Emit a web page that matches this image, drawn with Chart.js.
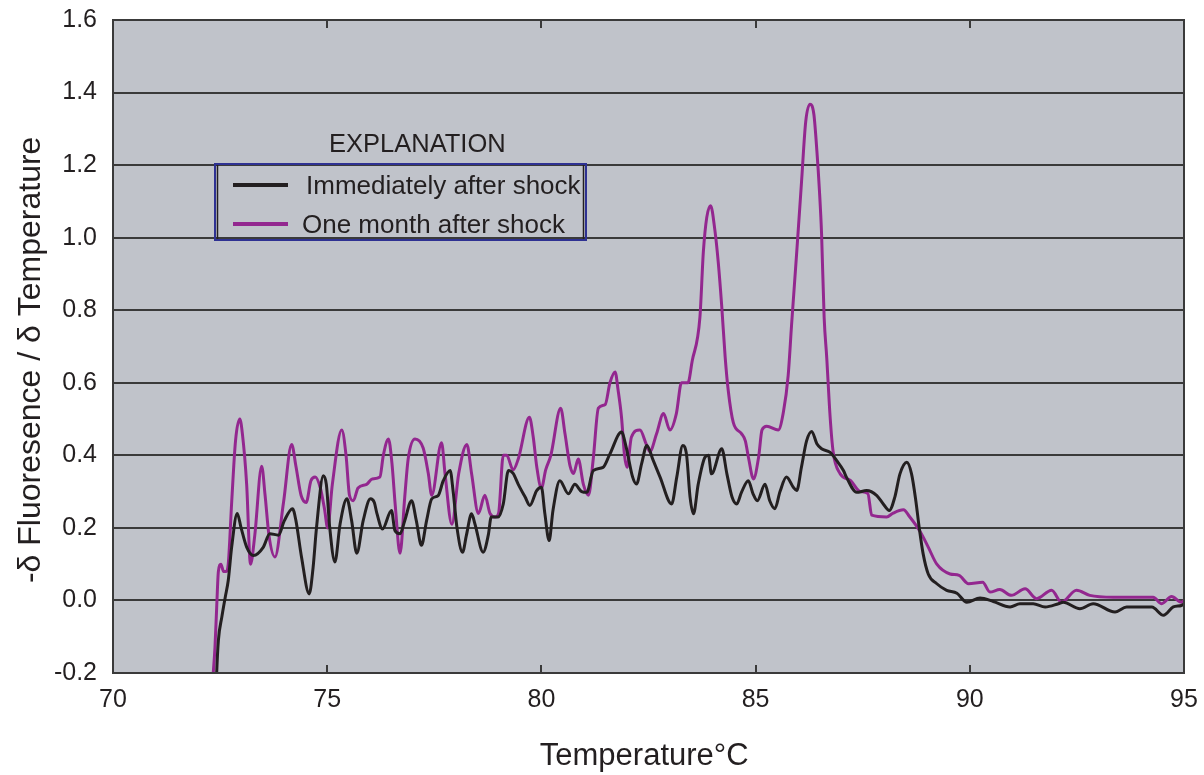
<!DOCTYPE html>
<html>
<head>
<meta charset="utf-8">
<title>Melt curves</title>
<script src="https://cdn.jsdelivr.net/npm/chart.js@4.4.1/dist/chart.umd.min.js"></script>
<style>
  html, body { margin: 0; padding: 0; background: #ffffff; }
  #wrap { width: 1204px; height: 775px; }
</style>
</head>
<body>
<div id="wrap"><canvas id="chart" width="1204" height="775"></canvas></div>
<script>
// Melt-curve derivative, one month after the shock (temperature °C, -dF/dT)
const tempOneMonth = [
  72.25, 72.34, 72.38, 72.42, 72.46, 72.52, 72.58, 72.64, 72.69, 72.77,
  72.86, 72.96, 73.02, 73.12, 73.21, 73.31, 73.47, 73.55, 73.64, 73.78,
  73.98, 74.17, 74.27, 74.39, 74.51, 74.62, 74.72, 74.84, 74.94, 75.01,
  75.12, 75.34, 75.44, 75.52, 75.61, 75.72, 75.92, 76.05, 76.23, 76.31,
  76.43, 76.51, 76.59, 76.70, 76.81, 76.89, 77.05, 77.24, 77.36, 77.44,
  77.67, 77.75, 77.91, 78.07, 78.26, 78.37, 78.53, 78.68, 78.80, 78.92,
  79.00, 79.11, 79.19, 79.34, 79.46, 79.72, 79.81, 79.89, 80.00, 80.10,
  80.22, 80.45, 80.55, 80.67, 80.75, 80.86, 80.98, 81.10, 81.21, 81.33,
  81.49, 81.60, 81.72, 81.79, 81.87, 81.94, 82.00, 82.10, 82.30, 82.45,
  82.53, 82.69, 82.85, 83.00, 83.15, 83.27, 83.42, 83.52, 83.70, 83.78,
  83.86, 83.95, 84.05, 84.13, 84.21, 84.29, 84.36, 84.48, 84.67, 84.76,
  84.84, 84.95, 85.07, 85.15, 85.26, 85.53, 85.65, 85.76, 85.84, 85.96,
  86.07, 86.17, 86.27, 86.36, 86.43, 86.49, 86.54, 86.60, 86.66, 86.74,
  86.81, 86.97, 87.22, 87.44, 87.62, 87.71, 88.06, 88.20, 88.45, 88.60,
  88.84, 89.03, 89.23, 89.54, 89.75, 89.97, 90.30, 90.47, 90.70, 90.97,
  91.29, 91.56, 91.91, 92.14, 92.49, 92.80, 93.35, 93.82, 94.28, 94.48,
  94.71, 94.94, 95.00
];
const valOneMonth = [
  -0.35, -0.20, -0.13, -0.02, 0.08, 0.10, 0.08, 0.08, 0.10, 0.27,
  0.44, 0.50, 0.46, 0.32, 0.10, 0.18, 0.37, 0.29, 0.18, 0.12,
  0.27, 0.43, 0.37, 0.29, 0.27, 0.33, 0.34, 0.31, 0.25, 0.20,
  0.32, 0.47, 0.40, 0.29, 0.275, 0.31, 0.32, 0.335, 0.34, 0.40,
  0.445, 0.38, 0.26, 0.13, 0.285, 0.39, 0.445, 0.42, 0.35, 0.29,
  0.435, 0.35, 0.21, 0.35, 0.43, 0.35, 0.24, 0.29, 0.24, 0.23,
  0.24, 0.40, 0.40, 0.36, 0.39, 0.505, 0.45, 0.37, 0.31, 0.36,
  0.40, 0.53, 0.46, 0.37, 0.35, 0.39, 0.32, 0.29, 0.39, 0.53,
  0.54, 0.60, 0.63, 0.58, 0.505, 0.40, 0.367, 0.45, 0.47, 0.43,
  0.41, 0.46, 0.515, 0.47, 0.515, 0.60, 0.60, 0.66, 0.78, 0.96,
  1.056, 1.088, 1.02, 0.93, 0.81, 0.67, 0.58, 0.49, 0.46, 0.44,
  0.39, 0.335, 0.395, 0.47, 0.48, 0.47, 0.52, 0.62, 0.76, 0.96,
  1.15, 1.32, 1.368, 1.34, 1.24, 1.13, 1.01, 0.78, 0.67, 0.505,
  0.41, 0.35, 0.33, 0.30, 0.295, 0.235, 0.23, 0.24, 0.25, 0.23,
  0.19, 0.147, 0.10, 0.073, 0.069, 0.046, 0.05, 0.023, 0.03, 0.014,
  0.032, 0.005, 0.028, -0.005, 0.028, 0.014, 0.009, 0.009, 0.009, -0.009,
  0.011, -0.005, 0.0
];

// Melt-curve derivative, immediately after the shock
const tempImmediate = [
  72.38, 72.42, 72.46, 72.54, 72.62, 72.69, 72.77, 72.90, 72.99, 73.12,
  73.28, 73.51, 73.66, 73.86, 74.00, 74.19, 74.27, 74.40, 74.58, 74.67,
  74.75, 74.91, 74.98, 75.06, 75.18, 75.30, 75.46, 75.57, 75.69, 75.84,
  76.01, 76.10, 76.16, 76.29, 76.50, 76.58, 76.70, 76.81, 76.97, 77.08,
  77.20, 77.32, 77.44, 77.59, 77.71, 77.87, 77.94, 78.03, 78.16, 78.25,
  78.37, 78.45, 78.64, 78.76, 78.83, 78.99, 79.11, 79.23, 79.34, 79.46,
  79.62, 79.73, 79.89, 80.00, 80.08, 80.18, 80.27, 80.43, 80.63, 80.78,
  80.94, 81.06, 81.21, 81.44, 81.60, 81.87, 81.98, 82.13, 82.22, 82.34,
  82.46, 82.61, 82.77, 83.04, 83.16, 83.30, 83.39, 83.47, 83.55, 83.66,
  83.82, 83.90, 83.97, 84.21, 84.33, 84.45, 84.56, 84.67, 84.83, 84.94,
  85.04, 85.22, 85.33, 85.45, 85.57, 85.72, 85.88, 85.96, 86.07, 86.19,
  86.31, 86.43, 86.54, 86.74, 86.89, 87.05, 87.12, 87.36, 87.59, 87.83,
  87.98, 88.12, 88.25, 88.37, 88.53, 88.64, 88.74, 88.82, 88.91, 89.03,
  89.23, 89.46, 89.70, 89.93, 90.24, 90.55, 90.94, 91.17, 91.48, 91.76,
  92.07, 92.18, 92.57, 92.88, 93.39, 93.66, 94.25, 94.52, 94.75, 94.94,
  95.00
];
const valImmediate = [
  -0.35, -0.20, -0.11, -0.046, 0.009, 0.055, 0.147, 0.24, 0.20, 0.147,
  0.124, 0.147, 0.184, 0.18, 0.22, 0.253, 0.22, 0.12, 0.018, 0.09,
  0.20, 0.344, 0.32, 0.20, 0.106, 0.21, 0.28, 0.22, 0.13, 0.22,
  0.28, 0.27, 0.24, 0.197, 0.248, 0.193, 0.184, 0.22, 0.275, 0.22,
  0.152, 0.22, 0.28, 0.289, 0.33, 0.358, 0.30, 0.20, 0.133, 0.18,
  0.239, 0.21, 0.133, 0.18, 0.23, 0.23, 0.266, 0.358, 0.35, 0.32,
  0.285, 0.262, 0.303, 0.312, 0.24, 0.165, 0.248, 0.33, 0.294, 0.32,
  0.30, 0.298, 0.358, 0.367, 0.404, 0.464, 0.422, 0.34, 0.321, 0.377,
  0.427, 0.386, 0.34, 0.266, 0.34, 0.427, 0.40, 0.285, 0.239, 0.32,
  0.395, 0.40, 0.349, 0.418, 0.349, 0.285, 0.266, 0.298, 0.33, 0.294,
  0.275, 0.32, 0.275, 0.253, 0.30, 0.34, 0.312, 0.303, 0.367, 0.44,
  0.466, 0.432, 0.418, 0.408, 0.386, 0.358, 0.34, 0.298, 0.303, 0.289,
  0.266, 0.248, 0.285, 0.349, 0.381, 0.349, 0.275, 0.20, 0.129, 0.073,
  0.046, 0.028, 0.02, -0.005, 0.007, -0.003, -0.018, -0.009, -0.009, -0.018,
  -0.009, -0.005, -0.023, -0.009, -0.032, -0.018, -0.018, -0.041, -0.018, -0.014,
  -0.01
];

const seriesLabels = ['Immediately after shock', 'One month after shock'];
const seriesColors = ['#231f20', '#93278f'];
const legendTitle = 'EXPLANATION';
// trailing spaces nudge the centred axis titles off the plot midline
const xTitle = 'Temperature\u00B0C ';
const yTitle = '-\u03B4 Fluoresence / \u03B4 Temperature   ';

const FONT = '"Liberation Sans", Arial, Helvetica, sans-serif';
const INK = '#231f20';

function toPoints(xs, ys) {
  return xs.map((x, i) => ({ x: x, y: ys[i] }));
}

// Gray plot background, frame, inward tick marks and the boxed explanation
const panelPlugin = {
  id: 'panel',
  beforeDraw(chart) {
    const { ctx, chartArea: a } = chart;
    ctx.save();
    ctx.fillStyle = '#c0c3ca';
    ctx.fillRect(a.left, a.top, a.right - a.left, a.bottom - a.top);
    ctx.restore();
  },
  afterDatasetsDraw(chart) {
    const { ctx, chartArea: a } = chart;
    const xs = chart.scales.x;
    ctx.save();
    ctx.strokeStyle = '#3a3a3a';
    ctx.lineWidth = 2;
    ctx.strokeRect(a.left, a.top, a.right - a.left, a.bottom - a.top);
    ctx.beginPath();
    xs.ticks.forEach(t => {
      if (t.value <= xs.min || t.value >= xs.max) return;
      const px = Math.round(xs.getPixelForValue(t.value));
      ctx.moveTo(px, a.top);
      ctx.lineTo(px, a.top + 8);
      ctx.moveTo(px, a.bottom);
      ctx.lineTo(px, a.bottom - 8);
    });
    ctx.stroke();

    // explanation box
    const bx = a.left + 102, by = a.top + 144, bw = 371, bh = 76;
    ctx.fillStyle = INK;
    ctx.textBaseline = 'alphabetic';
    ctx.textAlign = 'left';
    ctx.font = '25.5px ' + FONT;
    ctx.fillText(legendTitle, bx + 114, by - 12);

    ctx.strokeStyle = '#2e3192';
    ctx.lineWidth = 2;
    ctx.strokeRect(bx, by, bw, bh);
    ctx.strokeStyle = INK;
    ctx.lineWidth = 1.5;
    ctx.beginPath();
    ctx.moveTo(bx + 2.5, by + 1); ctx.lineTo(bx + 2.5, by + bh - 1);
    ctx.moveTo(bx + bw - 2.5, by + 1); ctx.lineTo(bx + bw - 2.5, by + bh - 1);
    ctx.stroke();

    ctx.font = '26px ' + FONT;
    chart.data.datasets.forEach((ds, i) => {
      const ly = by + 21 + i * 39;
      ctx.strokeStyle = ds.borderColor;
      ctx.lineWidth = 4;
      ctx.beginPath();
      ctx.moveTo(bx + 18, ly);
      ctx.lineTo(bx + 73, ly);
      ctx.stroke();
      ctx.fillStyle = INK;
      ctx.fillText(ds.label, bx + (i === 0 ? 91 : 87), ly + 9);
    });
    ctx.restore();
  }
};

new Chart(document.getElementById('chart'), {
  type: 'line',
  data: {
    datasets: [
      {
        label: seriesLabels[0],
        data: toPoints(tempImmediate, valImmediate),
        borderColor: seriesColors[0],
        backgroundColor: seriesColors[0]
      },
      {
        label: seriesLabels[1],
        data: toPoints(tempOneMonth, valOneMonth),
        borderColor: seriesColors[1],
        backgroundColor: seriesColors[1]
      }
    ]
  },
  options: {
    responsive: false,
    animation: false,
    devicePixelRatio: 1,
    layout: { padding: { top: 20, right: 20, left: 0, bottom: 0 } },
    elements: {
      point: { radius: 0, hoverRadius: 0 },
      line: { borderWidth: 3, cubicInterpolationMode: 'monotone', fill: false }
    },
    plugins: {
      legend: { display: false },
      tooltip: { enabled: false }
    },
    scales: {
      x: {
        type: 'linear',
        min: 70,
        max: 95,
        ticks: {
          stepSize: 5,
          padding: 12,
          color: INK,
          font: { family: FONT, size: 25 },
          maxRotation: 0
        },
        grid: { display: false, drawTicks: false },
        border: { display: false },
        title: {
          display: true,
          text: xTitle,
          color: INK,
          font: { family: FONT, size: 31 },
          padding: { top: 0, bottom: 0 }
        },
        afterFit(scale) {
          scale.height = 102;
          scale.paddingLeft = 0;
          scale.paddingRight = 0;
        }
      },
      y: {
        min: -0.2,
        max: 1.6,
        ticks: {
          stepSize: 0.2,
          padding: 16,
          color: INK,
          font: { family: FONT, size: 25 },
          callback: v => Number(v).toFixed(1)
        },
        grid: { color: '#3a3a3a', lineWidth: 2, drawTicks: false },
        border: { display: false },
        title: {
          display: true,
          text: yTitle,
          color: INK,
          font: { family: FONT, size: 32 },
          padding: { top: 12, bottom: 0 }
        },
        afterFit(scale) {
          scale.width = 113;
          scale.paddingTop = 0;
          scale.paddingBottom = 0;
        }
      }
    }
  },
  plugins: [panelPlugin]
});
</script>
</body>
</html>
